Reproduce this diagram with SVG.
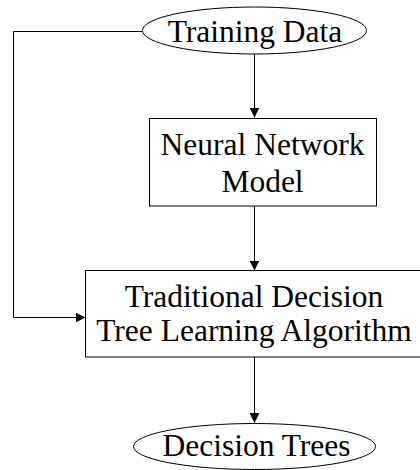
<svg xmlns="http://www.w3.org/2000/svg" width="420" height="470" viewBox="0 0 420 470">
  <style>
    .shape { fill: #ffffff; stroke: #000000; stroke-width: 1; }
    .label { font-family: "Liberation Serif", "Times New Roman", serif; font-size: 31.5px; fill: #000000; text-anchor: middle; }
    .edge { fill: none; stroke: #000000; stroke-width: 1; }
  </style>
  <defs>
    <marker id="arrow" viewBox="0 0 10 10" refX="10" refY="5" markerWidth="10" markerHeight="10" markerUnits="userSpaceOnUse" orient="auto">
      <path d="M0,0 L10,5 L0,10 Z" fill="#000000"/>
    </marker>
  </defs>

  <rect width="420" height="470" fill="#ffffff"/>

  <g id="connectors">
    <path class="edge" d="M254.5,54 V117.5" marker-end="url(#arrow)"/>
    <path class="edge" d="M254.5,206 V270.5" marker-end="url(#arrow)"/>
    <path class="edge" d="M254.5,357 V423" marker-end="url(#arrow)"/>
    <path class="edge" d="M142,31.5 H13.5 V317.5 H85.5" marker-end="url(#arrow)"/>
  </g>

  <g id="training-data">
    <ellipse class="shape" cx="254.5" cy="30.5" rx="112" ry="23.5"/>
    <text class="label" x="255" y="42">Training Data</text>
  </g>

  <g id="neural-network-model">
    <rect class="shape" x="149.5" y="118.5" width="227" height="87.5"/>
    <text class="label" x="262.5" y="155">Neural Network</text>
    <text class="label" x="262.5" y="192">Model</text>
  </g>

  <g id="decision-tree-learning">
    <rect class="shape" x="85.5" y="270.5" width="338" height="86.5"/>
    <text class="label" x="254" y="307">Traditional Decision</text>
    <text class="label" x="254" y="341">Tree Learning Algorithm</text>
  </g>

  <g id="decision-trees">
    <ellipse class="shape" cx="254.5" cy="446.5" rx="121" ry="23"/>
    <text class="label" x="256.5" y="456">Decision Trees</text>
  </g>
</svg>
